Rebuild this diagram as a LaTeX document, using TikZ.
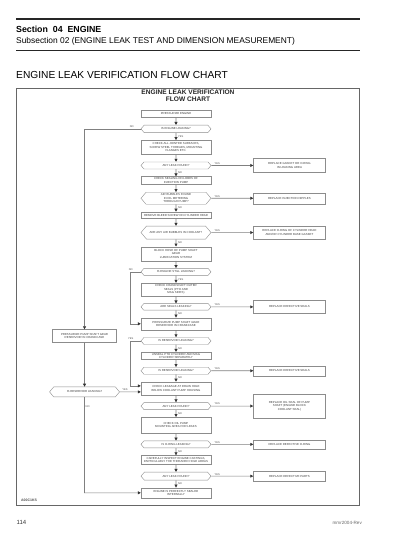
\documentclass[tikz,border=0pt]{standalone}
\usepackage{fontspec}
\setmainfont{Liberation Sans}
\usepackage{xcolor}
\usepackage{tikz}
\usetikzlibrary{shapes.symbols,arrows.meta,positioning}

\begin{document}
\begin{tikzpicture}[
    x=1pt, y=-1pt,
    node distance=7.25pt,
    task/.style={draw=black!45, line width=0.4pt, align=center, text=black!75,
        font=\fontsize{2.9}{3.4}\selectfont, minimum width=70pt, minimum height=7pt,
        inner xsep=1pt, inner ysep=0.8pt},
    query/.style={task, shape=signal, signal to=west and east, signal pointer angle=100},
    repair/.style={task, minimum width=72pt},
    lbl/.style={font=\fontsize{2.6}{3}\selectfont, text=black!70, inner sep=0.8pt},
    arrow/.style={-{Triangle[length=3pt,width=3pt,color=black!80]}, draw=black!50, line width=0.6pt},
]
    \useasboundingbox (0,0) rectangle (416,538);

    % Page header
    \draw[line width=1.2pt, black!85] (16,19) -- (360,19);
    \node[anchor=base west, inner sep=0pt, font=\bfseries\fontsize{8.8}{10}\selectfont] (section) at (16,32.7) {Section\ \ 04\ \ ENGINE};
    \node[anchor=base west, inner sep=0pt, font=\fontsize{8.4}{10}\selectfont] (subsection) at (16,43.3) {Subsection 02 (ENGINE LEAK TEST AND DIMENSION MEASUREMENT)};
    \draw[line width=1.2pt, black!85] (16,50.7) -- (360,50.7);
    \node[anchor=base west, inner sep=0pt, font=\fontsize{10.2}{12}\selectfont] (heading) at (16,78.2) {ENGINE LEAK VERIFICATION FLOW CHART};

    % Chart frame
    \draw[line width=1pt, black!60] (16,88.3) rectangle (359.3,505.7);
    \node[align=center, inner sep=0pt, font=\bfseries\fontsize{6.6}{7.2}\selectfont, text=black!85] (title) at (188,95.5) {ENGINE LEAK VERIFICATION\\FLOW CHART};

    % Main column
    \node[task] (press) at (176,114) {PRESSURIZE ENGINE};
    \node[query, below=of press, minimum height=7.5pt] (leak1) {IS ENGINE LEAKING?};
    \node[task, below=of leak1, minimum height=14pt] (joints) {CHECK ALL JOINTED SURFACES,\\SCREW STEEL THREADS, MOUNTING\\FLANGES ETC.};
    \node[query, below=of joints] (found1) {ANY LEAK FOUND?};
    \node[task, below=of found1, minimum height=8pt] (lobes) {CHECK SEALING ON LOBES OF\\INJECTION PUMP};
    \node[query, below=of lobes, minimum height=12pt] (bubble1) {AIR BUBBLES FOUND\\IN OIL METERING\\THROUGH PUMP?};
    \node[task, below=of bubble1, minimum height=6.5pt] (bleed) {REMOVE BLEED SCREW ON CYLINDER HEAD};
    \node[query, below=of bleed, minimum height=13pt] (bubble2) {ARE ANY AIR BUBBLES IN COOLANT?};
    \node[task, below=of bubble2, minimum height=14pt] (hose) {BLOCK HOSE OF PUMP SHAFT\\GEAR\\LUBRICATION SYSTEM};
    \node[query, below=of hose] (leak2) {IS ENGINE STILL LEAKING?};
    \node[task, below=of leak2, minimum height=13pt] (crank) {CHECK CRANKSHAFT OUTER\\SEALS (PTO AND\\MAG SIDES)};
    \node[query, below=of crank, minimum height=6.5pt] (seals) {ARE SEALS LEAKING?};
    \node[task, below=of seals, minimum height=12pt] (gear1) {PRESSURIZE PUMP SHAFT GEAR\\RESERVOIR IN CRANKCASE};
    \node[query, below=of gear1] (tank1) {IS RESERVOIR LEAKING?};
    \node[task, below=of tank1, minimum height=7.5pt] (unseal) {UNSEAL PTO CYLINDER AND MAG\\CYLINDER SEPARATELY};
    \node[query, below=of unseal] (tank2) {IS RESERVOIR LEAKING?};
    \node[task, below=of tank2, minimum height=13pt] (drain) {CHECK LEAKAGE AT DRAIN HOLE\\BELOW COOLANT PUMP HOUSING};
    \node[query, below=of drain] (found2) {ANY LEAK FOUND?};
    \node[task, below=of found2, minimum height=16pt] (mount) {CHECK OIL PUMP\\MOUNTING AREA FOR LEAKS};
    \node[query, below=of mount] (oring) {IS O-RING LEAKING?};
    \node[task, below=of oring, minimum height=9pt] (cast) {CAREFULLY INSPECT ENGINE CASTINGS,\\PARTICULARLY THE THREADED HOLE AREAS};
    \node[query, below=of cast, minimum height=8pt] (found3) {ANY LEAK FOUND?};
    \node[task, below=of found3, minimum height=10pt] (sealed) {ENGINE IS PERFECTLY SEALED\\INTERNALLY};

    % Repairs
    \node[repair, right=42pt of found1, minimum height=14pt] (fix1) {REPLACE GASKET OR O-RING\\IN LEAKING AREA};
    \node[repair, right=42pt of bubble1, minimum height=11pt] (fix2) {REPLACE INJECTION NIPPLES};
    \node[repair, right=42pt of bubble2, minimum height=13pt] (fix3) {REPLACE O-RING OF CYLINDER HEAD\\AND/OR CYLINDER BASE GASKET};
    \node[repair, right=42pt of seals, minimum height=13pt] (fix4) {REPLACE DEFECTIVE SEALS};
    \node[repair, right=42pt of tank2, minimum height=10pt] (fix5) {REPLACE DEFECTIVE SEALS};
    \node[repair, right=42pt of found2, minimum height=24pt] (fix6) {REPLACE OIL SEAL OF PUMP\\SHAFT (ENGINE BLOCK\\COOLANT SEAL)};
    \node[repair, right=42pt of oring, minimum height=9pt] (fix7) {REPLACE DEFECTIVE O-RING};
    \node[repair, right=42pt of found3, minimum height=10pt] (fix8) {REPLACE DEFECTIVE PARTS};

    % Side branch
    \node[query, left=21pt of drain, yshift=-3.5pt, minimum height=10pt] (tank3) {IS RESERVOIR LEAKING?};
    \node[task, above=44pt of tank3, minimum width=64pt, minimum height=13pt] (gear2) {PRESSURIZE PUMP SHAFT GEAR\\RESERVOIR IN CRANKCASE};

    % Arrows down the main column
    \draw[arrow] (press) -- (leak1);
    \draw[arrow] (leak1) -- node[lbl, right, xshift=1pt] {YES} (joints);
    \draw[arrow] (joints) -- (found1);
    \draw[arrow] (found1) -- node[lbl, right, xshift=1pt] {NO} (lobes);
    \draw[arrow] (lobes) -- (bubble1);
    \draw[arrow] (bubble1) -- node[lbl, right, xshift=1pt] {NO} (bleed);
    \draw[arrow] (bleed) -- (bubble2);
    \draw[arrow] (bubble2) -- node[lbl, right, xshift=1pt] {NO} (hose);
    \draw[arrow] (hose) -- (leak2);
    \draw[arrow] (leak2) -- node[lbl, right, xshift=1pt] {YES} (crank);
    \draw[arrow] (crank) -- (seals);
    \draw[arrow] (seals) -- node[lbl, right, xshift=1pt] {NO} (gear1);
    \draw[arrow] (gear1) -- (tank1);
    \draw[arrow] (tank1) -- node[lbl, right, xshift=1pt] {NO} (unseal);
    \draw[arrow] (unseal) -- (tank2);
    \draw[arrow] (tank2) -- node[lbl, right, xshift=1pt] {NO} (drain);
    \draw[arrow] (drain) -- (found2);
    \draw[arrow] (found2) -- node[lbl, right, xshift=1pt] {NO} (mount);
    \draw[arrow] (mount) -- (oring);
    \draw[arrow] (oring) -- node[lbl, right, xshift=1pt] {NO} (cast);
    \draw[arrow] (cast) -- (found3);
    \draw[arrow] (found3) -- node[lbl, right, xshift=1pt] {NO} (sealed);

    % Arrows to the repairs
    \draw[arrow] (found1) -- node[lbl, above, pos=0.14] {YES} (fix1);
    \draw[arrow] (bubble1) -- node[lbl, above, pos=0.14] {YES} (fix2);
    \draw[arrow] (bubble2) -- node[lbl, above, pos=0.14] {YES} (fix3);
    \draw[arrow] (seals) -- node[lbl, above, pos=0.14] {YES} (fix4);
    \draw[arrow] (tank2) -- node[lbl, above, pos=0.14] {YES} (fix5);
    \draw[arrow] (found2) -- node[lbl, above, pos=0.14] {YES} (fix6);
    \draw[arrow] (oring) -- node[lbl, above, pos=0.14] {YES} (fix7);
    \draw[arrow] (found3) -- node[lbl, above, pos=0.14] {YES} (fix8);

    % Loops on the left
    \draw[arrow] (leak1.west) -- node[lbl, above, pos=0.16] {NO} (leak1.west -| gear2) -- (gear2);
    \draw[arrow] (leak2.west) -- ++(-10pt,0) node[lbl, above] {NO} |- (gear1);
    \draw[arrow] (tank1.west) -- ++(-10pt,0) node[lbl, above] {YES} |- ([yshift=2.5pt]drain.west);
    \draw[arrow] (gear2) -- (tank3);
    \draw[arrow] (tank3) -- node[lbl, above, pos=0.25] {YES} (tank3 -| drain.west);
    \draw[arrow] (tank3) -- node[lbl, right, pos=0.1] {NO} (tank3 |- sealed) -- (sealed);

    % Footer
    \node[anchor=base west, inner sep=0pt, font=\bfseries\fontsize{3.5}{4}\selectfont, text=black!70] (code) at (21,501.5) {A00C1KS};
    \node[anchor=base west, inner sep=0pt, font=\fontsize{6}{7}\selectfont, text=black!80] (page) at (16.5,524.7) {114};
    \node[anchor=base east, inner sep=0pt, font=\fontsize{4.6}{5}\selectfont, text=black!60] (rev) at (362,524.7) {mmr2004-Rev};
\end{tikzpicture}
\end{document}
